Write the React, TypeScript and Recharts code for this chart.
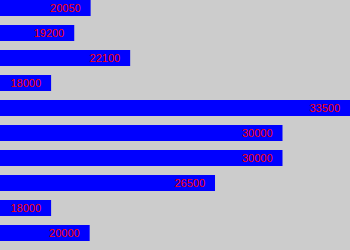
import React from 'react';
import { BarChart, Bar, XAxis, YAxis, LabelList } from 'recharts';

const rows = ['r1', 'r2', 'r3', 'r4', 'r5', 'r6', 'r7', 'r8', 'r9', 'r10'];
const salaries = [20050, 19200, 22100, 18000, 33500, 30000, 30000, 26500, 18000, 20000];

const data = rows.map((name, i) => ({ name, value: salaries[i] }));

export default function App() {
  return (
    <div style={{ position: 'absolute', left: 0, top: 0, width: 350, height: 250, background: '#cccccc', overflow: 'hidden' }}>
      <BarChart
        width={350}
        height={250}
        data={data}
        layout="vertical"
        margin={{ top: -4.5, right: 0, bottom: 4.5, left: 0 }}
        barCategoryGap={4.5}
      >
        <XAxis type="number" hide domain={[15350, 33500]} allowDataOverflow />
        <YAxis type="category" dataKey="name" hide />
        <Bar dataKey="value" fill="#0000ff" isAnimationActive={false}>
          <LabelList
            dataKey="value"
            position="insideRight"
            offset={10}
            fill="#ff0000"
            style={{ fontSize: 11, fontFamily: 'Liberation Sans, Arial, sans-serif' }}
          />
        </Bar>
      </BarChart>
    </div>
  );
}
